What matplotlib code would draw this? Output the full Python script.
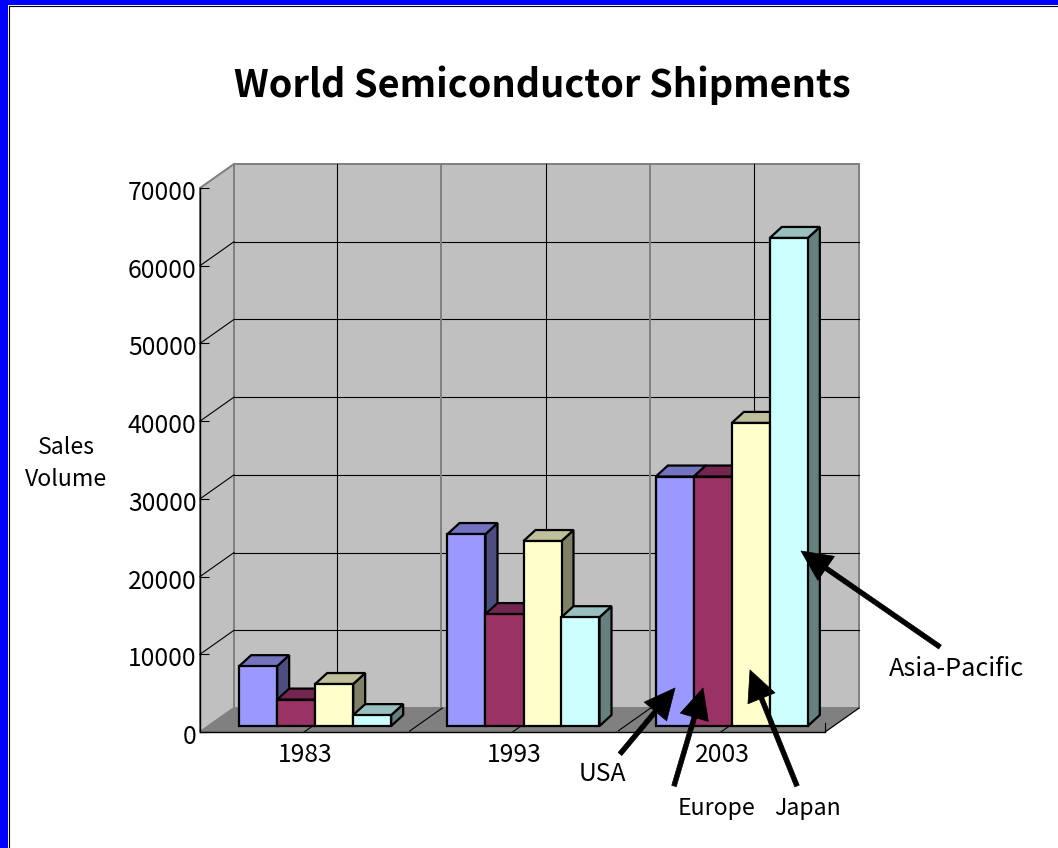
import matplotlib
matplotlib.use("Agg")
import matplotlib.pyplot as plt
from matplotlib.patches import Rectangle
from matplotlib.transforms import Affine2D

plt.rcParams["font.family"] = ["Noto Sans CJK JP", "DejaVu Sans"]

# Values
years = ["1983", "1993", "2003"]
usa = [7700, 24700, 32100]
europe = [3400, 14400, 32100]
japan = [5400, 23800, 39000]
asia_pacific = [1400, 14000, 62800]
series_names = ["USA", "Europe", "Japan", "Asia-Pacific"]
yticks = [0, 10000, 20000, 30000, 40000, 50000, 60000, 70000]

W, H = 1058, 848
fig = plt.figure(figsize=(W / 100, H / 100), dpi=100, facecolor="white")

# blue frame on the top and left only
fig.patches.append(Rectangle((0, 0), 8 / W, 1, transform=fig.transFigure, fc="#0000ff", ec="none"))
fig.patches.append(Rectangle((0, 1 - 5 / H), 1, 5 / H, transform=fig.transFigure, fc="#0000ff", ec="none"))
fig.add_artist(plt.Line2D([8.5 / W, 8.5 / W, 1], [0, 1 - 5.5 / H, 1 - 5.5 / H], color="black", lw=0.8))

# the axes is the front plane of the 3D box
ax = fig.add_axes([200 / W, (H - 732) / H, 625 / W, 544 / H])
ax.patch.set_visible(False)
ax.set_xlim(-0.5, 2.5)
ax.set_ylim(0, 70000)


def shifted(dx, dy):
    return ax.transData + Affine2D().translate(dx, dy)


depth_x, depth_y = 34, 24
back = shifted(depth_x, depth_y)
x0, x1 = -0.5, 2.5
ymax = yticks[-1]
wall_grey = "#c0c0c0"
edge_grey = "#808080"

# back wall, side wall, floor
ax.fill([x0, x1, x1, x0], [0, 0, ymax, ymax], transform=back, fc=wall_grey, ec=edge_grey, lw=1.4, zorder=0.1, clip_on=False)
left_wall = [ax.transData.transform((x0, 0)), back.transform((x0, 0)), back.transform((x0, ymax)), ax.transData.transform((x0, ymax))]
ax.fill(*zip(*left_wall), transform=None, fc=wall_grey, ec=edge_grey, lw=1.4, zorder=0.1, clip_on=False)
floor = [ax.transData.transform((x0, 0)), ax.transData.transform((x1, 0)), back.transform((x1, 0)), back.transform((x0, 0))]
ax.fill(*zip(*floor), transform=None, fc=edge_grey, ec=edge_grey, lw=1, zorder=0.2, clip_on=False)

# grid on the back wall and the side wall
grid_back = shifted(depth_x - 1, depth_y)
for v in yticks[1:-1]:
    ax.plot([x0, x1], [v, v], transform=back, color="black", lw=0.8, zorder=0.3, clip_on=False)
for v in yticks[1:]:
    a = ax.transData.transform((x0, v))
    b = back.transform((x0, v))
    ax.plot([a[0], b[0]], [a[1], b[1]], transform=None, color="black" if v < ymax else edge_grey, lw=0.8, zorder=0.3, clip_on=False)
for k in range(6):
    gx = -0.5 + k * 0.5
    if k % 2 == 1:
        ax.plot([gx, gx], [0, ymax], transform=grid_back, color="black", lw=0.8, zorder=0.3, clip_on=False)
    elif k > 0:
        ax.plot([gx, gx], [0, ymax], transform=grid_back, color=edge_grey, lw=1.4, zorder=0.3, clip_on=False)
for k in range(1, 7):
    gx = -0.5 + k * 0.5
    a = ax.transData.transform((gx, 0))
    b = back.transform((gx, 0))
    ax.plot([a[0], b[0]], [a[1], b[1]], transform=None, color="black", lw=0.8, zorder=0.4, clip_on=False)
    if k % 2 == 0:
        ax.plot([gx, gx], [0, 1100], color=edge_grey if k < 6 else "black", lw=0.8, zorder=0.4, clip_on=False)

# bars
bar_w = 38 / (625 / 3)
bar_dx, bar_dy = 11, 6
side_dx, side_dy = 12, 11
colors = ["#9999ff", "#993366", "#ffffcc", "#ccffff"]
tops = ["#7373bf", "#732650", "#bfbf99", "#99bfbf"]
sides = ["#4d4d80", "#4d1a33", "#808066", "#668080"]
front = shifted(bar_dx, bar_dy)
all_series = [usa, europe, japan, asia_pacific]
z = 3
for g in range(len(years)):
    for s, vals in enumerate(all_series):
        left = g - 2 * bar_w + s * bar_w
        v = vals[g]
        p1 = front.transform((left, v))
        p2 = front.transform((left + bar_w, v))
        p3 = front.transform((left + bar_w, 0))
        top_pts = [p1, p2, (p2[0] + side_dx, p2[1] + side_dy), (p1[0] + side_dx, p1[1] + side_dy)]
        side_pts = [p3, p2, (p2[0] + side_dx, p2[1] + side_dy), (p3[0] + side_dx, p3[1] + side_dy)]
        ax.fill(*zip(*side_pts), transform=None, fc=sides[s], ec="black", lw=1.6, zorder=z, clip_on=False)
        ax.fill(*zip(*top_pts), transform=None, fc=tops[s], ec="black", lw=1.6, zorder=z, clip_on=False)
        ax.bar(left, v, bar_w, align="edge", transform=front, color=colors[s], edgecolor="black", lw=1.6, zorder=z + 0.5, clip_on=False)
        z += 1
ax.set_xlim(-0.5, 2.5)
ax.set_ylim(0, 70000)

# axes
for name in ["top", "right"]:
    ax.spines[name].set_visible(False)
ax.spines["left"].set_linewidth(1.0)
ax.spines["bottom"].set_linewidth(1.0)
ax.set_axisbelow(True)
ax.set_yticks(yticks)
ax.tick_params(axis="y", direction="in", length=6.5, width=0.8, pad=2.5, labelsize=17.8)
ax.set_xticks(range(len(years)))
ax.set_xticklabels(years)
ax.tick_params(axis="x", length=0, pad=7, labelsize=17.8)
for tl in ax.get_yticklabels():
    tl.set_transform(tl.get_transform() + Affine2D().translate(0, -2))
for tl in ax.get_xticklabels():
    tl.set_transform(tl.get_transform() + Affine2D().translate(1.5, 0))


def label(x, y, s, size=16.6, **kw):
    fig.text(x / W, (H - y) / H, s, ha="center", va="center", fontsize=size, **kw)


label(542, 85, "World Semiconductor Shipments", size=27.3, fontweight="bold")
label(66, 448, "Sales")
label(66, 480, "Volume")

label(602, 774, series_names[0], size=17.8)
label(717, 808, series_names[1])
label(808, 808, series_names[2])
label(956, 669, series_names[3], size=18.2)

# arrows from the series names to the bars of 2003
arrows = [
    ((620, 754), (675, 688)),
    ((674, 786), (703, 688)),
    ((797, 786), (750, 670)),
    ((940, 647), (801, 551)),
]
for tail, tip in arrows:
    ax.annotate(
        "",
        xy=(tip[0], H - tip[1]),
        xytext=(tail[0], H - tail[1]),
        xycoords="figure pixels",
        textcoords="figure pixels",
        arrowprops=dict(facecolor="black", edgecolor="black", width=3.4, headwidth=21, headlength=22, shrink=0, lw=0.5),
        zorder=200,
        annotation_clip=False,
    )

fig.savefig("out.png", dpi=100)
